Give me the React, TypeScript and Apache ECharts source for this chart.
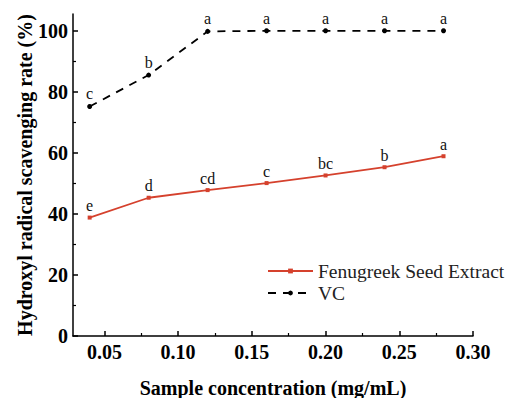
import React, { useEffect, useRef } from "react";
import * as echarts from "echarts";

const concentrations = [0.04, 0.08, 0.12, 0.16, 0.2, 0.24, 0.28];
const extractValues = [38.8, 45.3, 47.8, 50.1, 52.6, 55.3, 58.9];
const extractLetters = ["e", "d", "cd", "c", "bc", "b", "a"];
const vcValues = [75.2, 85.5, 99.8, 100, 100, 100, 100];
const vcLetters = ["c", "b", "a", "a", "a", "a", "a"];
const xMajorTicks = [0.05, 0.1, 0.15, 0.2, 0.25, 0.3];
const xMinorTicks = [0.075, 0.125, 0.175, 0.225, 0.275];
const yMajorTicks = [0, 20, 40, 60, 80, 100];
const yMinorTicks = [10, 30, 50, 70, 90];

const FONT = "Times New Roman, Liberation Serif, serif";
const RED = "#d5412d";

export default function App() {
  const ref = useRef<HTMLDivElement>(null);
  useEffect(() => {
    if (!ref.current) return;
    const chart = echarts.init(ref.current, null, { renderer: "svg" });
    const xMin = 0.0287;
    const xMax = 0.3;
    const yMin = 0;
    const yMax = 105.5;
    const axisLine = { show: true, lineStyle: { color: "#000", width: 1.5 } };
    chart.setOption({
      animation: false,
      backgroundColor: "#fff",
      textStyle: { fontFamily: FONT },
      grid: { left: 73, right: 37, top: 14, bottom: 62, containLabel: false, outerBoundsMode: "none" },
      legend: {
        orient: "vertical",
        left: 262,
        top: 256,
        itemWidth: 45,
        itemHeight: 6,
        itemGap: 2,
        textStyle: { fontFamily: FONT, fontSize: 19.5, color: "#222" },
        data: ["Fenugreek Seed Extract", "VC"],
      },
      xAxis: [
        {
          type: "value",
          min: xMin,
          max: xMax,
          axisLine,
          axisTick: { show: true, inside: true, length: 5, customValues: xMajorTicks, lineStyle: { color: "#000", width: 1.5 } },
          axisLabel: {
            customValues: xMajorTicks,
            formatter: (v: number) => v.toFixed(2),
            fontFamily: FONT,
            fontWeight: "bold",
            fontSize: 20,
            color: "#000",
            margin: 6,
          },
          splitLine: { show: false },
          name: "Sample concentration (mg/mL)",
          nameLocation: "middle",
          nameGap: 42,
          nameMoveOverlap: false,
          nameTextStyle: { fontFamily: FONT, fontWeight: "bold", fontSize: 20, color: "#000" },
        },
        {
          type: "value",
          min: xMin,
          max: xMax,
          position: "bottom",
          axisLine: { show: false },
          axisTick: { show: true, inside: true, length: 3, customValues: xMinorTicks, lineStyle: { color: "#000", width: 1.2 } },
          axisLabel: { show: false },
          splitLine: { show: false },
        },
      ],
      yAxis: [
        {
          type: "value",
          min: yMin,
          max: yMax,
          axisLine,
          axisTick: { show: true, inside: true, length: 5, customValues: yMajorTicks, lineStyle: { color: "#000", width: 1.5 } },
          axisLabel: {
            customValues: yMajorTicks,
            fontFamily: FONT,
            fontWeight: "bold",
            fontSize: 20,
            color: "#000",
            margin: 5,
          },
          splitLine: { show: false },
          name: "Hydroxyl radical scavenging rate (%)",
          nameLocation: "middle",
          nameGap: 38,
          nameMoveOverlap: false,
          nameRotate: 90,
          nameTextStyle: { fontFamily: FONT, fontWeight: "bold", fontSize: 20, color: "#000" },
        },
        {
          type: "value",
          min: yMin,
          max: yMax,
          position: "left",
          axisLine: { show: false },
          axisTick: { show: true, inside: true, length: 3, customValues: yMinorTicks, lineStyle: { color: "#000", width: 1.2 } },
          axisLabel: { show: false },
          splitLine: { show: false },
        },
      ],
      series: [
        {
          name: "Fenugreek Seed Extract",
          type: "line",
          xAxisIndex: 0,
          yAxisIndex: 0,
          data: concentrations.map((c, i) => [c, extractValues[i]]),
          symbol: "rect",
          symbolSize: 4,
          itemStyle: { color: RED },
          lineStyle: { color: RED, width: 1.8 },
          label: {
            show: true,
            position: "top",
            distance: 2,
            fontFamily: FONT,
            fontSize: 16,
            color: "#111",
            formatter: (p: any) => extractLetters[p.dataIndex],
          },
        },
        {
          name: "VC",
          type: "line",
          xAxisIndex: 0,
          yAxisIndex: 0,
          data: concentrations.map((c, i) => [c, vcValues[i]]),
          symbol: "circle",
          symbolSize: 5,
          itemStyle: { color: "#000" },
          lineStyle: { color: "#000", width: 1.8, type: [8, 7] },
          label: {
            show: true,
            position: "top",
            distance: 2,
            fontFamily: FONT,
            fontSize: 16,
            color: "#111",
            formatter: (p: any) => vcLetters[p.dataIndex],
          },
        },
      ],
    });
    return () => chart.dispose();
  }, []);
  return (
    <div
      ref={ref}
      style={{ position: "fixed", left: 0, top: 0, width: 510, height: 398, background: "#fff" }}
    />
  );
}
